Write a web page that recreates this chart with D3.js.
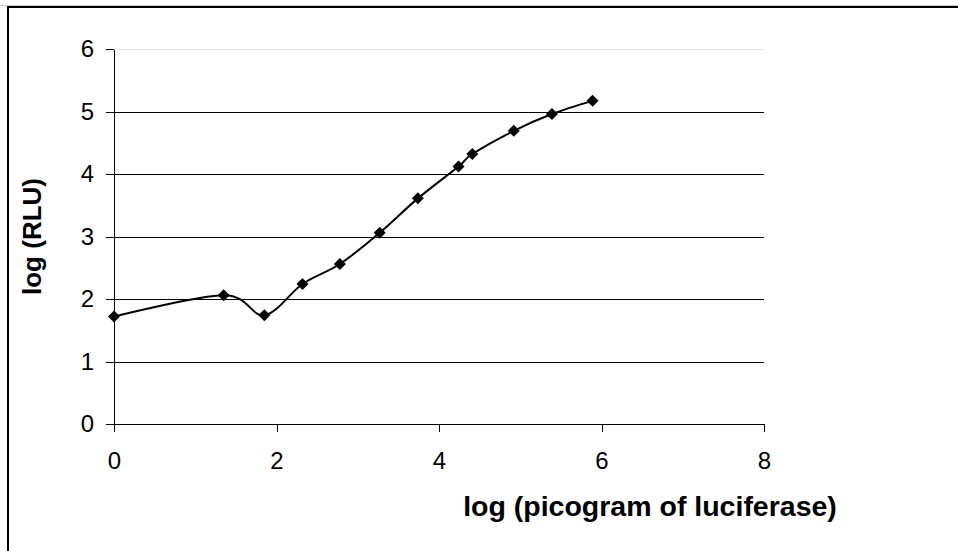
<!DOCTYPE html>
<html>
<head>
<meta charset="utf-8">
<script src="https://cdnjs.cloudflare.com/ajax/libs/d3/7.8.5/d3.min.js"></script>
<style>
body { margin: 0; background: #fff; }
.grid line { stroke: #000; stroke-width: 1; shape-rendering: crispEdges; }
.grid path { display: none; }
.axis path, .axis line { stroke: #000; shape-rendering: crispEdges; }
.axis text { font-family: "Liberation Sans", Arial, sans-serif; font-size: 24px; fill: #000; }
.title { font-family: "Liberation Sans", Arial, sans-serif; font-weight: bold; }
</style>
</head>
<body>
<script>
// data
var logPicogram = [0, 1.35, 1.85, 2.32, 2.78, 3.27, 3.74, 4.24, 4.41, 4.92, 5.39, 5.89];
var logRLU = [1.72, 2.06, 1.74, 2.24, 2.56, 3.06, 3.61, 4.12, 4.32, 4.69, 4.96, 5.17];
var xTicks = [0, 2, 4, 6, 8];
var yTicks = [0, 1, 2, 3, 4, 5, 6];

var data = logPicogram.map(function(d, i) { return {x: d, y: logRLU[i]}; });

// set the dimensions and margins of the graph
var margin = {top: 49, right: 194, bottom: 127, left: 114},
width = 958 - margin.left - margin.right,
height = 551 - margin.top - margin.bottom;

var svgRoot = d3.select("body").append("svg")
    .attr("width", 958)
    .attr("height", 551);

// outer frame (left and top edges only visible)
svgRoot.append("line")
    .attr("x1", 0).attr("x2", 958).attr("y1", 5.5).attr("y2", 5.5)
    .attr("stroke", "#ccc").attr("stroke-width", 1);
svgRoot.append("path")
    .attr("d", "M8,551 V7 H958")
    .attr("fill", "none")
    .attr("stroke", "#000")
    .attr("stroke-width", 2);

var svg = svgRoot.append("g")
    .attr("transform", "translate(" + margin.left + "," + margin.top + ")");

// set the ranges
var x = d3.scaleLinear().domain([0, 8]).range([0, width]);
var y = d3.scaleLinear().domain([0, 6]).range([height, 0]);

// gridlines in y axis
svg.append("g")
    .attr("class", "grid")
    .call(d3.axisLeft(y)
        .tickValues(yTicks.slice(1))
        .tickSize(-width)
        .tickFormat(""));
svg.selectAll(".grid .tick line")
    .style("stroke", function(d) { return d === 6 ? "#e6e6e6" : "#000"; });

// the X axis
svg.append("g")
    .attr("class", "axis")
    .attr("transform", "translate(0," + height + ")")
    .call(d3.axisBottom(x).tickValues(xTicks).tickFormat(d3.format("d"))
        .tickSize(8).tickSizeOuter(0).tickPadding(20));

// the Y axis
svg.append("g")
    .attr("class", "axis")
    .call(d3.axisLeft(y).tickValues(yTicks).tickFormat(d3.format("d"))
        .tickSize(8).tickSizeOuter(0).tickPadding(12));

// the smoothed line
var valueline = d3.line()
    .x(function(d) { return x(d.x); })
    .y(function(d) { return y(d.y); })
    .curve(d3.curveCatmullRom.alpha(0));

svg.append("path")
    .datum(data)
    .attr("fill", "none")
    .attr("stroke", "#000")
    .attr("stroke-width", 2)
    .attr("d", valueline);

// diamond markers
svg.selectAll(".dot")
    .data(data)
    .enter().append("path")
    .attr("class", "dot")
    .attr("d", d3.symbol().type(d3.symbolSquare).size(72))
    .attr("transform", function(d) { return "translate(" + x(d.x) + "," + y(d.y) + ") rotate(45)"; })
    .attr("fill", "#000");

// text label for the x axis
svg.append("text")
    .attr("class", "title")
    .attr("x", 536)
    .attr("y", height + 92)
    .attr("text-anchor", "middle")
    .style("font-size", "28.5px")
    .text("log (picogram of luciferase)");

// text label for the y axis
svg.append("text")
    .attr("class", "title")
    .attr("transform", "rotate(-90)")
    .attr("x", 0 - height / 2)
    .attr("y", 41 - margin.left)
    .attr("text-anchor", "middle")
    .style("font-size", "26px")
    .text("log (RLU)");
</script>
</body>
</html>
